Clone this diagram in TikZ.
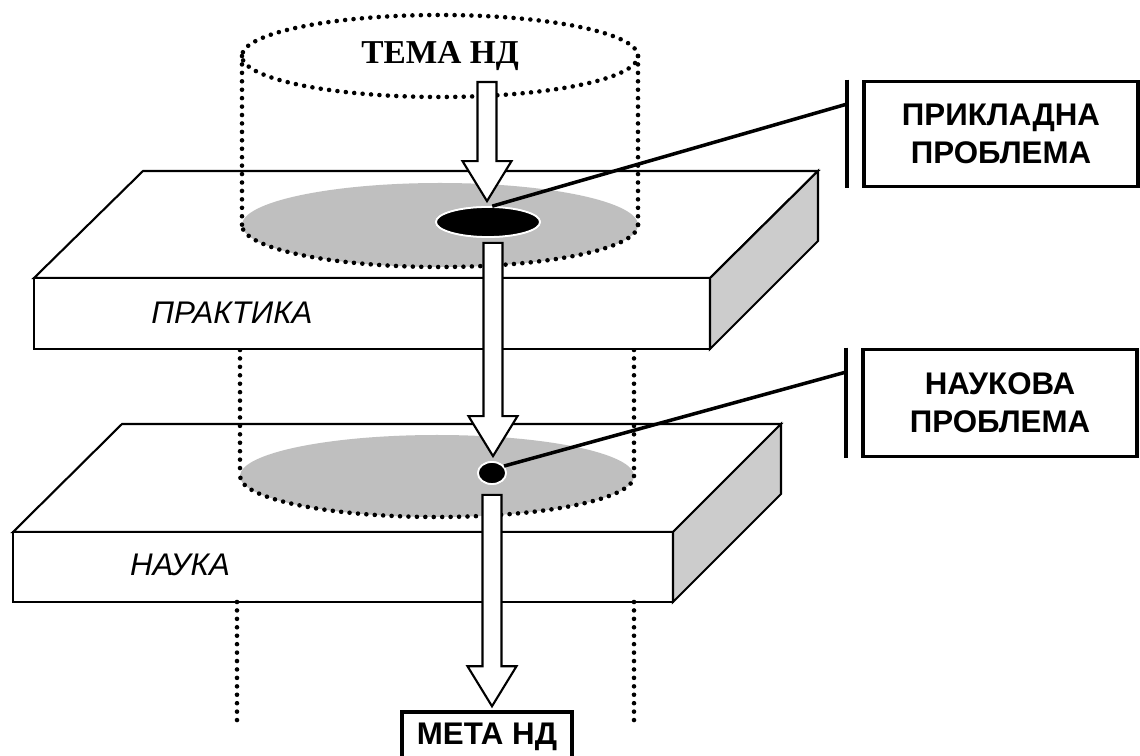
\documentclass[tikz,border=0pt]{standalone}
\usepackage{fontspec}
\setmainfont{Liberation Serif}
\setsansfont{Liberation Sans}
\usetikzlibrary{shapes.geometric,calc}

\newcommand{\blockarrow}[2]{%
\draw [blockarr] ($(#1)+(-9.5,0)$) -- ($(#2 -| #1)+(-9.5,-40)$) -- ($(#2 -| #1)+(-24.5,-40)$) -- (#2 -| #1)
  -- ($(#2 -| #1)+(24.5,-40)$) -- ($(#2 -| #1)+(9.5,-40)$) -- ($(#1)+(9.5,0)$) -- cycle;}

\begin{document}
\begin{tikzpicture}[x=0.02cm,y=-0.02cm]
\tikzstyle{dotline} = [line width=2.6pt,line cap=round,dash pattern=on 0pt off 4.8pt];
\tikzstyle{edge} = [line width=1.2pt,line join=miter];
\tikzstyle{face} = [edge,fill=white];
\tikzstyle{side} = [edge,fill=black!20];
\tikzstyle{disc} = [fill=black!25];
\tikzstyle{level} = [font=\sffamily\itshape\fontsize{17.8}{21}\selectfont];
\tikzstyle{probbox} = [font=\sffamily\bfseries\fontsize{17.8}{21.5}\selectfont,draw,line width=2pt,align=center,minimum width=274*0.02cm,minimum height=105*0.02cm];
\tikzstyle{blockarr} = [draw,fill=white,line width=1.2pt,line join=miter];
\tikzstyle{link} = [line width=2pt];
\tikzstyle{hole} = [ellipse,fill=black,draw=white,line width=1pt,inner sep=0];
\useasboundingbox (0,0) rectangle (1140,756);

% lower slab
\draw [face] (122,424) -- (781,424) -- (673,532) -- (13,532) -- cycle;
\draw [face] (13,532) rectangle (673,602);
\draw [side] (673,532) -- (781,424) -- (781,494) -- (673,602) -- cycle;
\node [level] (nauka) at (180,565) {НАУКА};
\fill [disc] (437,476) ellipse [x radius=197, y radius=41];
\draw [dotline] (634,476) arc [start angle=0, end angle=180, x radius=197, y radius=41];
\draw [dotline] (240,350) -- (240,476);
\draw [dotline] (634,350) -- (634,476);
\draw [dotline] (237,602) -- (237,727);
\draw [dotline] (634,602) -- (634,727);

% upper slab
\draw [face] (143,171) -- (818,171) -- (710,278) -- (34,278) -- cycle;
\draw [face] (34,278) rectangle (710,349);
\draw [side] (710,278) -- (818,171) -- (818,241) -- (710,349) -- cycle;
\node [level] (praktika) at (232,313) {ПРАКТИКА};
\fill [disc] (440,225) ellipse [x radius=198, y radius=42];
\draw [dotline] (638,225) arc [start angle=0, end angle=180, x radius=198, y radius=42];
\draw [dotline] (242,56) -- (242,225);
\draw [dotline] (638,56) -- (638,225);
\node [dotline,draw,ellipse,inner sep=0,minimum width=396*0.02cm,minimum height=82*0.02cm,
  font=\bfseries\fontsize{19}{22}\selectfont] (tema) at (440,56) {ТЕМА НД};

% problems
\node [hole,minimum width=104*0.02cm,minimum height=30*0.02cm] (aprob) at (488,222) {};
\node [hole,minimum width=28*0.02cm,minimum height=22*0.02cm] (nprob) at (492,473) {};
\node [probbox] (apbox) at (1001,134) {ПРИКЛАДНА\\ПРОБЛЕМА};
\node [probbox,minimum height=107*0.02cm] (npbox) at (1000,403) {НАУКОВА\\ПРОБЛЕМА};
\node [probbox,minimum width=170*0.02cm,minimum height=50*0.02cm] (meta) at (487,737) {МЕТА НД};

% arrows
\coordinate (a1s) at (487,82);
\coordinate (a1e) at ($(aprob.north)+(0,-5)$);
\coordinate (a2s) at ($(aprob.south)+(5,5)$);
\coordinate (a2e) at ($(nprob.north)+(0,-5)$);
\coordinate (a3s) at ($(nprob.south)+(0,10)$);
\coordinate (a3e) at ($(meta.north)+(0,-4)$);
\blockarrow{a1s}{a1e}
\blockarrow{a2s}{a2e}
\blockarrow{a3s}{a3e}
\node [hole,minimum width=104*0.02cm,minimum height=30*0.02cm] at (aprob) {};
\node [hole,minimum width=28*0.02cm,minimum height=22*0.02cm] at (nprob) {};

% links
\coordinate (abar) at ($(apbox.west)+(-15,-30)$);
\coordinate (nbar) at ($(npbox.west)+(-15,-31)$);
\draw [link] ($(apbox.north west)+(-15,0)$) -- ($(apbox.south west)+(-15,0)$);
\draw [link] ($(npbox.north west)+(-15,0)$) -- ($(npbox.south west)+(-15,0)$);
\draw [link] (aprob.75) -- (abar);
\draw [link] (nprob.30) -- (nbar);
\end{tikzpicture}
\end{document}
